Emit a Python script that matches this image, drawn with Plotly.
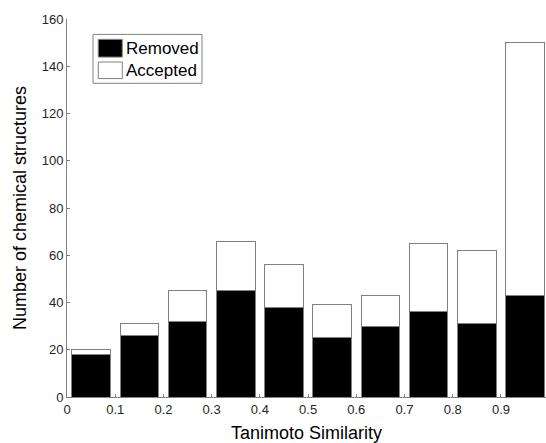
import plotly.graph_objects as go

bin_centers = [0.05, 0.15, 0.25, 0.35, 0.45, 0.55, 0.65, 0.75, 0.85, 0.95]
removed = [18, 26, 32, 45, 38, 25, 30, 36, 31, 43]
accepted = [2, 5, 13, 21, 18, 14, 13, 29, 31, 107]
series_names = ["Removed", "Accepted"]
x_ticks = [0, 0.1, 0.2, 0.3, 0.4, 0.5, 0.6, 0.7, 0.8, 0.9]
x_tick_text = ["0", "0.1", "0.2", "0.3", "0.4", "0.5", "0.6", "0.7", "0.8", "0.9"]
y_ticks = [0, 20, 40, 60, 80, 100, 120, 140, 160]

edge = "#808080"
font = "Liberation Sans, Arial, sans-serif"
fills = ["black", "white"]

fig = go.Figure()
for name, vals, fill in zip(series_names, [removed, accepted], fills):
    fig.add_trace(go.Bar(x=bin_centers, y=vals, width=0.08, name=name,
                         marker=dict(color=fill, line=dict(color=edge, width=1))))

# legend box drawn in paper coordinates (large MATLAB-style swatches)
fig.add_shape(type="rect", xref="paper", yref="paper", x0=0.0543, x1=0.2818,
              y0=0.8299, y1=0.9593, line=dict(color=edge, width=1), fillcolor="white")
swatch_y = [(0.8993, 0.9461), (0.8424, 0.8862)]
text_y = [0.9224, 0.8643]
for name, fill, (y0, y1), ty in zip(series_names, fills, swatch_y, text_y):
    fig.add_shape(type="rect", xref="paper", yref="paper", x0=0.0653, x1=0.1154,
                  y0=y0, y1=y1, line=dict(color=edge, width=1), fillcolor=fill)
    fig.add_annotation(xref="paper", yref="paper", x=0.1190, y=ty, text=name,
                       showarrow=False, xanchor="left", yanchor="middle",
                       font=dict(size=17, color="black", family=font))

axis_common = dict(showgrid=False, zeroline=False, showline=True, linecolor=edge,
                   linewidth=1, ticks="inside", ticklen=3, tickcolor=edge,
                   tickfont=dict(size=13, color="#262626"), automargin=False)

fig.update_layout(
    barmode="stack",
    width=546, height=443,
    margin=dict(l=67, r=0, t=19, b=46),
    plot_bgcolor="white", paper_bgcolor="white",
    font=dict(family=font, color="#222222"),
    showlegend=False,
    hovermode=False,
    xaxis=dict(range=[0, 0.9934], tickvals=x_ticks, ticktext=x_tick_text,
               title=dict(text="Tanimoto Similarity", font=dict(size=18, color="black"), standoff=11),
               **axis_common),
    yaxis=dict(range=[0, 160], tickvals=y_ticks,
               title=dict(text="Number of chemical structures", font=dict(size=18, color="black"), standoff=10),
               **axis_common),
)

fig.write_html("out.html", config={"displayModeBar": False},
               post_script="document.body.style.margin='0';document.body.style.overflow='hidden';")
